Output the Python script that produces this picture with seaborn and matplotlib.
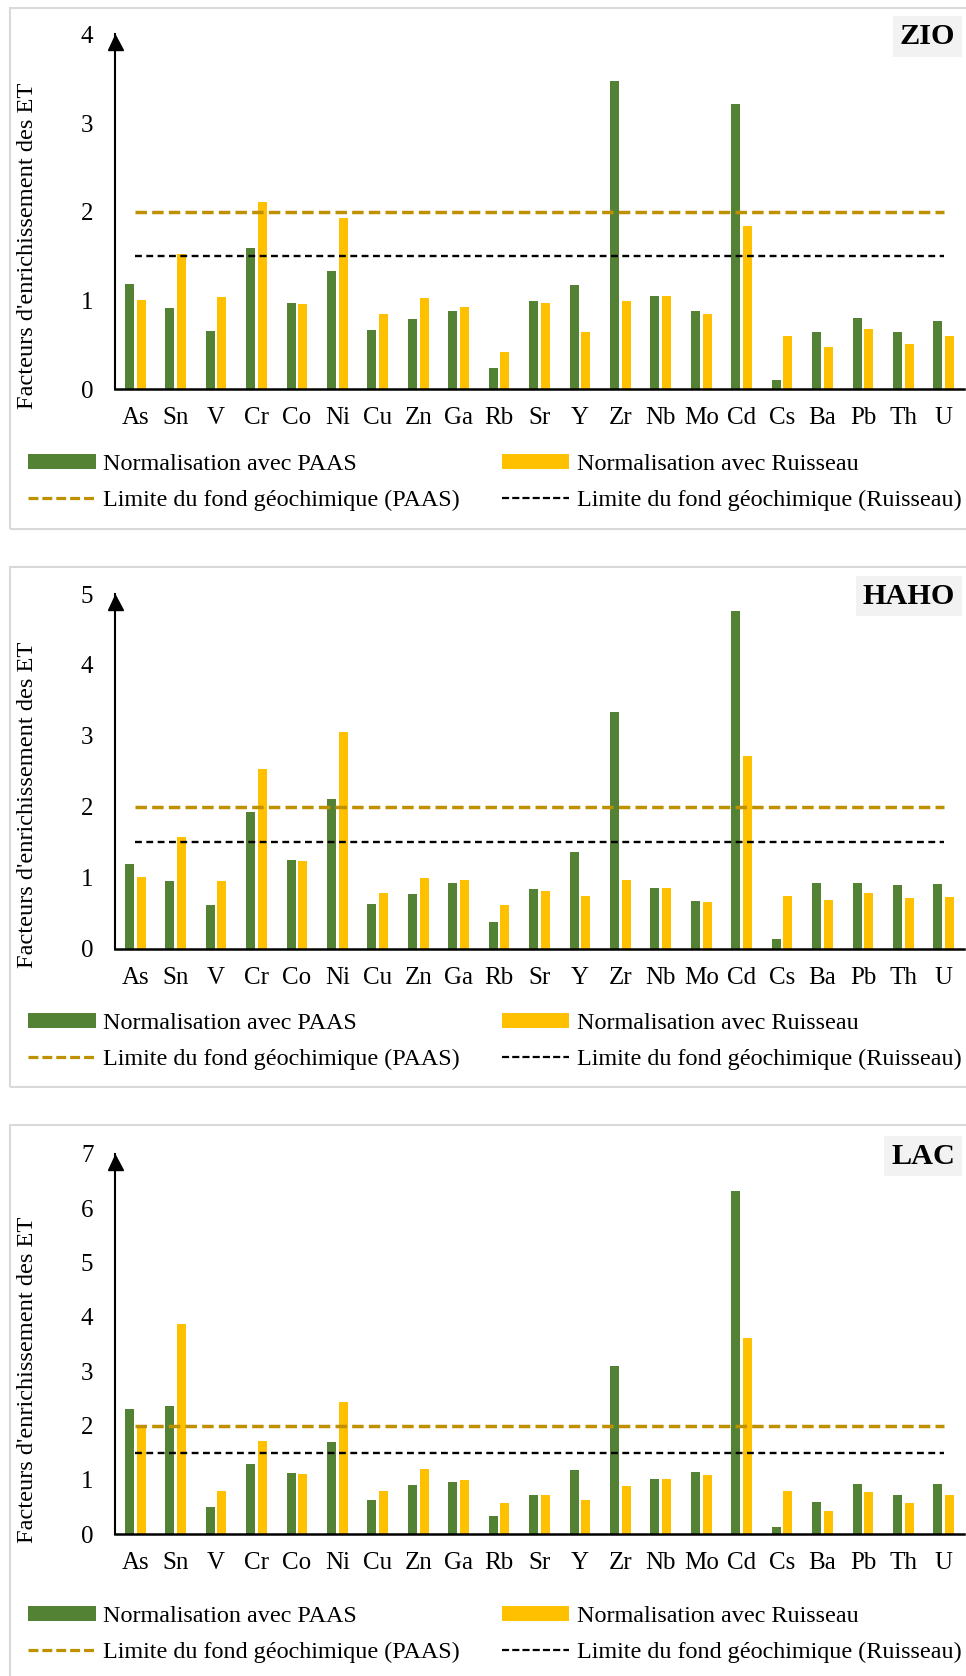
import numpy as np
import pandas as pd
import seaborn as sns
import matplotlib.pyplot as plt
from matplotlib.patches import Patch, Rectangle
from matplotlib.lines import Line2D
from matplotlib.transforms import offset_copy

# data
elements = ["As", "Sn", "V", "Cr", "Co", "Ni", "Cu", "Zn", "Ga", "Rb", "Sr",
            "Y", "Zr", "Nb", "Mo", "Cd", "Cs", "Ba", "Pb", "Th", "U"]

zio_paas = [1.19, 0.92, 0.66, 1.59, 0.97, 1.33, 0.67, 0.79, 0.88, 0.24, 0.99,
            1.18, 3.47, 1.05, 0.88, 3.22, 0.10, 0.64, 0.80, 0.64, 0.77]
zio_ruis = [1.01, 1.52, 1.04, 2.11, 0.96, 1.93, 0.85, 1.03, 0.93, 0.42, 0.97,
            0.64, 1.00, 1.05, 0.85, 1.84, 0.60, 0.48, 0.68, 0.51, 0.60]
haho_paas = [1.20, 0.95, 0.62, 1.92, 1.25, 2.11, 0.63, 0.77, 0.93, 0.37, 0.84,
             1.36, 3.33, 0.86, 0.67, 4.76, 0.13, 0.92, 0.92, 0.90, 0.91]
haho_ruis = [1.01, 1.57, 0.96, 2.53, 1.24, 3.06, 0.79, 1.00, 0.97, 0.61, 0.82,
             0.74, 0.97, 0.86, 0.66, 2.72, 0.74, 0.69, 0.78, 0.71, 0.73]
lac_paas = [2.30, 2.36, 0.51, 1.30, 1.12, 1.69, 0.64, 0.91, 0.96, 0.33, 0.73,
            1.18, 3.09, 1.01, 1.15, 6.31, 0.13, 0.59, 0.92, 0.73, 0.92]
lac_ruis = [1.97, 3.88, 0.80, 1.71, 1.11, 2.44, 0.80, 1.20, 1.00, 0.57, 0.72,
            0.64, 0.88, 1.01, 1.10, 3.62, 0.79, 0.43, 0.78, 0.57, 0.73]

sites = ["ZIO", "HAHO", "LAC"]
y_max = [4, 5, 7]
limit_paas = 2.0
limit_ruis = 1.5

series = ["Normalisation avec PAAS", "Normalisation avec Ruisseau"]
line_labels = ["Limite du fond géochimique (PAAS)", "Limite du fond géochimique (Ruisseau)"]

GREEN = "#548235"
YELLOW = "#FFC000"
GOLD = "#BF9000"

sns.set_style("white")
plt.rcParams["font.family"] = ["Liberation Serif", "DejaVu Serif"]
for k in ["text.color", "axes.labelcolor", "xtick.color", "ytick.color", "axes.edgecolor"]:
    plt.rcParams[k] = "black"

W, H = 966, 1676
fig = plt.figure(figsize=(W / 100, H / 100), dpi=100)


def fx(px):
    return px / W


def fy(py):
    return 1 - py / H


# pixel layout of each panel: (axis top, axis bottom, box top, box bottom, legend middle)
layout = [
    (34.3, 389.3, 8, 529, 482.5),
    (594.0, 948.7, 567, 1087, 1041.5),
    (1154.0, 1534.3, 1125, 1690, 1634.5),
]

values = [(zio_paas, zio_ruis), (haho_paas, haho_ruis), (lac_paas, lac_ruis)]

for i, site in enumerate(sites):
    top, bot, btop, bbot, legmid = layout[i]
    fig.add_artist(Rectangle((fx(10), fy(bbot)), 1.1, (bbot - btop) / H,
                             transform=fig.transFigure, fill=False,
                             edgecolor="#D9D9D9", lw=1.5))

    ax = fig.add_axes([fx(115), fy(bot), fx(964) - fx(115), (bot - top) / H])
    paas, ruis = values[i]
    df = pd.DataFrame({
        "element": elements * 2,
        "valeur": paas + ruis,
        "serie": [series[0]] * len(elements) + [series[1]] * len(elements),
    })
    sns.barplot(data=df, x="element", y="valeur", hue="serie", order=elements,
                hue_order=series, palette=[GREEN, YELLOW], saturation=1,
                width=0.58, gap=0.24, errorbar=None, legend=False,
                linewidth=0, ax=ax)

    ax.plot([0, len(elements) - 1], [limit_paas, limit_paas], color=GOLD, lw=2.5,
            dashes=(3.3, 1.5), zorder=4)
    ax.plot([0, len(elements) - 1], [limit_ruis, limit_ruis], color="black", lw=1.7,
            dashes=(2.9, 1.9), zorder=4)

    ax.set_xlim(-0.5, len(elements) - 0.5)
    ax.set_ylim(0, y_max[i])
    ax.set_yticks(range(0, y_max[i] + 1))
    ax.set_xticks(range(len(elements)))
    ax.set_xticklabels(elements)
    ax.set_xticks(np.arange(-0.5, len(elements)), minor=True)
    ax.tick_params(axis="x", which="major", length=0, pad=13, labelsize=18)
    ax.tick_params(axis="x", which="minor", length=5, width=1.5, direction="out")
    ax.tick_params(axis="y", length=5, width=1.5, direction="out", pad=10.5, labelsize=18)
    ax.set_xlabel("")
    ax.set_ylabel("Facteurs d'enrichissement des ET", fontsize=17.6)
    ax.yaxis.set_label_coords(-0.091, 0.405)
    for s in ["top", "right"]:
        ax.spines[s].set_visible(False)
    ax.spines["left"].set_linewidth(1.5)
    ax.spines["bottom"].set_linewidth(1.8)
    ax.patch.set_alpha(0)

    # arrow head on the y axis
    tr = offset_copy(ax.transAxes, fig=fig, y=-8, units="dots")
    ax.plot([0], [1], marker="^", markersize=10.8, color="black", transform=tr,
            clip_on=False, zorder=5)

    fig.text(fx(955), fy(top + 2), site, ha="right", va="center", fontsize=21.8,
             fontweight="bold",
             bbox=dict(facecolor="#F2F2F2", edgecolor="none", pad=5))

    handles = [Patch(facecolor=GREEN, edgecolor="none"),
               Line2D([0], [0], color=GOLD, lw=2.3, dashes=(3.1, 1.25)),
               Patch(facecolor=YELLOW, edgecolor="none"),
               Line2D([0], [0], color="black", lw=1.6, dashes=(3.2, 1.4))]
    labels = [series[0], line_labels[0], series[1], line_labels[1]]
    fig.legend(handles, labels, loc="center left",
               bbox_to_anchor=(fx(28), fy(legmid)), ncol=2, frameon=False,
               fontsize=17.4, handlelength=2.8, handleheight=0.55,
               handletextpad=0.3, columnspacing=1.75, labelspacing=0.6,
               borderpad=0, borderaxespad=0)

fig.savefig("out.png", dpi=100)
